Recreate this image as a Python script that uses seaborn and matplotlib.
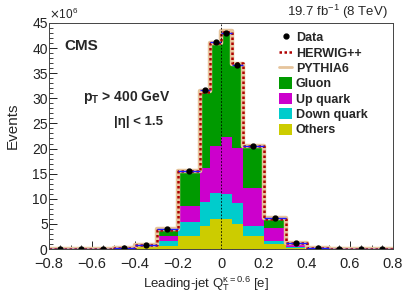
import numpy as np
import pandas as pd
import matplotlib
matplotlib.use("Agg")
import matplotlib.pyplot as plt
from matplotlib.lines import Line2D
from matplotlib.patches import Patch
import seaborn as sns

# bin edges (non-uniform in the centre)
edges = [-0.8, -0.7, -0.6, -0.5, -0.4, -0.3, -0.2, -0.1, -0.05, 0.0,
         0.05, 0.1, 0.2, 0.3, 0.4, 0.5, 0.6, 0.7, 0.8]

# stacked components, in units of 1e6 events
others = [0.01, 0.01, 0.02, 0.06, 0.35, 0.6, 2.5, 4.6, 5.9, 5.9, 5.0, 2.6, 0.9, 0.3, 0.06, 0.02, 0.01, 0.01]
down_quark = [0.0, 0.0, 0.01, 0.03, 0.15, 1.0, 2.8, 4.8, 5.3, 5.0, 4.2, 2.0, 0.6, 0.1, 0.03, 0.01, 0.0, 0.0]
up_quark = [0.0, 0.0, 0.01, 0.03, 0.15, 0.9, 3.2, 6.8, 9.4, 11.3, 10.9, 7.5, 2.7, 0.5, 0.08, 0.02, 0.01, 0.0]
gluon = [0.01, 0.01, 0.02, 0.06, 0.15, 1.3, 6.9, 15.2, 20.4, 21.0, 16.9, 8.4, 1.8, 0.2, 0.05, 0.02, 0.01, 0.01]

herwig = [0.02, 0.02, 0.06, 0.18, 0.8, 3.8, 15.5, 31.3, 41.1, 43.1, 37.0, 20.5, 6.0, 1.1, 0.22, 0.07, 0.03, 0.02]
pythia = [0.02, 0.02, 0.06, 0.19, 0.8, 3.9, 15.6, 31.5, 41.0, 43.3, 36.9, 20.6, 6.1, 1.1, 0.22, 0.07, 0.03, 0.02]
data = [0.02, 0.02, 0.05, 0.2, 0.75, 3.9, 15.6, 31.6, 41.3, 43.0, 36.6, 20.6, 6.1, 1.1, 0.2, 0.06, 0.02, 0.02]

edges_arr = np.array(edges)
centers = (edges_arr[:-1] + edges_arr[1:]) / 2
half_w = (edges_arr[1:] - edges_arr[:-1]) / 2

comp_names = ["Gluon", "Up quark", "Down quark", "Others"]
comp_colors = {"Gluon": "#009a00", "Up quark": "#cc00cc",
               "Down quark": "#00cccc", "Others": "#cccc00"}

rows = []
for name, vals in zip(comp_names, [gluon, up_quark, down_quark, others]):
    for c, v in zip(centers, vals):
        rows.append({"x": c, "w": v, "comp": name})
df = pd.DataFrame(rows)

sns.set_theme(style="ticks")
plt.rcParams["font.family"] = ["Liberation Sans", "DejaVu Sans"]

fig = plt.figure(figsize=(4.09, 2.94), dpi=100)
ax = fig.add_axes([0.12, 0.153, 0.841, 0.769])

sns.histplot(data=df, x="x", weights="w", hue="comp", hue_order=comp_names,
             bins=edges, multiple="stack", element="step", palette=comp_colors,
             alpha=1, linewidth=0, legend=False, ax=ax)

sns.histplot(x=centers, weights=pythia, bins=edges, element="step", fill=False,
             color="#e6c49c", linewidth=3.2, ax=ax)
sns.histplot(x=centers, weights=herwig, bins=edges, element="step", fill=False,
             color="#b00000", linewidth=1.8, linestyle=(0, (1, 1)), ax=ax)

ax.errorbar(centers, data, xerr=half_w, fmt="none", ecolor="#1a1aff", elinewidth=1.0)
ax.plot(centers, data, "o", color="black", markersize=3.5)

ax.axvline(0, color="black", linestyle=(0, (2, 2)), linewidth=0.6)

ax.set_xlim(-0.8, 0.8)
ax.set_ylim(0, 45)
ax.set_xticks(np.arange(-0.8, 0.81, 0.2))
ax.set_xticklabels(["\u22120.8", "\u22120.6", "\u22120.4", "\u22120.2", "0", "0.2", "0.4", "0.6", "0.8"])
ax.set_xticks(np.arange(-0.8, 0.81, 0.05), minor=True)
ax.set_yticks(np.arange(0, 46, 5))
ax.set_yticks(np.arange(0, 46, 1), minor=True)
ax.tick_params(axis="both", which="major", direction="in", length=6, width=0.7,
               colors="#222222")
ax.tick_params(axis="x", which="major", pad=5.5, labelsize=10.5)
ax.tick_params(axis="y", which="major", pad=1, labelsize=10)
ax.tick_params(axis="both", which="minor", direction="in", length=3, width=0.6, colors="#222222")
for s in ax.spines.values():
    s.set_linewidth(0.7)
    s.set_color("#444444")

ax.set_ylabel("Events", fontsize=11)
ax.yaxis.set_label_coords(-0.085, 0.545)
ax.set_xlabel(r"Leading-jet Q$_\mathregular{T}^{\mathregular{\kappa=0.6}}$ [e]", fontsize=9.5)
ax.xaxis.set_label_coords(0.455, -0.11)

ax.text(0.0, 1.005, r"$\times$10$^\mathregular{6}$", transform=ax.transAxes,
        fontsize=8.5, ha="left", va="bottom")
ax.text(0.985, 1.01, r"19.7 fb$^\mathregular{-1}$ (8 TeV)", transform=ax.transAxes,
        fontsize=9.5, ha="right", va="bottom")
ax.text(0.045, 0.9, "CMS", transform=ax.transAxes, fontsize=11, fontweight="bold",
        ha="left", va="center")
ax.text(0.1, 0.67, r"p$_\mathregular{T}$ > 400 GeV", transform=ax.transAxes,
        fontsize=10, fontweight="bold", ha="left", va="center")
ax.text(0.19, 0.56, "|η| < 1.5", transform=ax.transAxes,
        fontsize=9.5, fontweight="bold", ha="left", va="center")

handles = [
    Line2D([0], [0], marker="o", color="black", linestyle="none", markersize=3.5),
    Line2D([0], [0], color="#b00000", linewidth=1.8, linestyle=(0, (1, 1))),
    Line2D([0], [0], color="#e6c49c", linewidth=2),
] + [Patch(facecolor=comp_colors[n], edgecolor="none") for n in comp_names]
labels = ["Data", "HERWIG++", "PYTHIA6"] + comp_names
leg = ax.legend(handles, labels, loc="upper left", bbox_to_anchor=(0.655, 0.985),
                frameon=False, fontsize=9, handlelength=1.0, handleheight=1.0,
                handletextpad=0.3, labelspacing=0.2, borderaxespad=0.0)
for t in leg.get_texts():
    t.set_fontweight("bold")

fig.savefig("out.png", dpi=100)
